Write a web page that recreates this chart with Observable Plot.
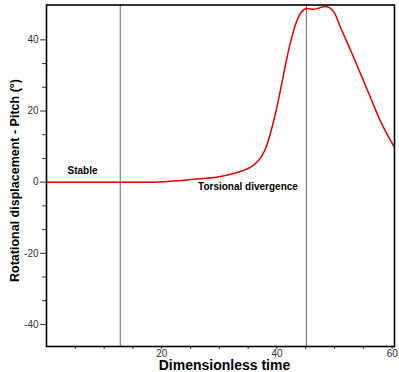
<!DOCTYPE html>
<html>
<head>
<meta charset="utf-8">
<script src="https://cdn.jsdelivr.net/npm/d3@7"></script>
<script src="https://cdn.jsdelivr.net/npm/@observablehq/plot@0.6"></script>
<style>
  html, body { margin: 0; padding: 0; background: #fff; }
  svg { display: block; }
</style>
</head>
<body>
<div id="chart"></div>
<script>
// Data
const time  = [0, 10, 18, 22, 26.7, 30, 32, 34, 35.5, 36.5, 37.3, 38.0, 38.6, 39.2, 39.8, 40.5, 41.3, 42.2, 43.2, 44.2, 45.2, 46.4, 48.4, 49.9, 51, 52.8, 54.5, 56.3, 58, 60.4];
const pitch = [0, 0, 0, 0.3, 0.95, 1.5, 2.2, 3.2, 4.3, 5.6, 7.2, 9.4, 12.2, 15.8, 19.7, 25, 31.5, 38.3, 44.2, 47.7, 48.8, 48.6, 49.4, 47.8, 43.6, 37, 30.5, 23.5, 17, 9.8];
const regimeBounds = [12.8, 45.1];
const stableNote = [{label: "Stable", t: 6.25, v: 2.3}];
const divergenceNote = [{label: "Torsional divergence", t: 26.3, v: -2.3}];
const xMajorTicks = [20, 40, 60];
const xMinorTicks = [5, 10, 15, 25, 30, 35, 45, 50, 55];
const yMajorTicks = [-40, -20, 0, 20, 40];
const yMinorTicks = [-33.33, -26.67, -13.33, -6.67, 6.67, 13.33, 26.67, 33.33];
const xTitle = "Dimensionless time";
const yTitle = "Rotational displacement - Pitch (°)";

const series = time.map((t, i) => ({t, v: pitch[i]}));

const chart = Plot.plot({
  width: 399,
  height: 372,
  marginLeft: 46,
  marginRight: 5,
  marginTop: 4.5,
  marginBottom: 26,
  style: {fontFamily: "Liberation Sans, Arial, sans-serif", fontSize: "10px", background: "#fff", color: "#333"},
  x: {domain: [0, 60.4]},
  y: {domain: [-46.2, 49.8]},
  marks: [
    Plot.ruleX(regimeBounds, {stroke: "#666", strokeWidth: 1}),
    Plot.line(series, {x: "t", y: "v", stroke: "#e00000", strokeWidth: 1.5, curve: "monotone-x"}),
    Plot.axisX(xMajorTicks, {tickSize: 3, tickPadding: 0, label: null, fill: "#333", fontSize: 10, tickFormat: (d) => String(d)}),
    Plot.axisX(xMinorTicks, {tickSize: 3, text: null, label: null}),
    Plot.axisY(yMajorTicks, {tickSize: 6, tickPadding: 2, label: null, fill: "#333", fontSize: 10, tickFormat: (d) => String(d)}),
    Plot.axisY(yMinorTicks, {tickSize: 4, text: null, label: null}),
    Plot.frame({stroke: "#000", strokeWidth: 1.6}),
    Plot.text(stableNote, {x: "t", y: "v", text: "label", textAnchor: "middle", lineAnchor: "bottom", fontWeight: "bold", fontSize: 10, fill: "#000"}),
    Plot.text(divergenceNote, {x: "t", y: "v", text: "label", textAnchor: "start", lineAnchor: "bottom", fontWeight: "bold", fontSize: 10, fill: "#000"}),
    Plot.text([xTitle], {frameAnchor: "bottom", textAnchor: "middle", lineAnchor: "bottom", dy: 23, dx: 4, fontWeight: "bold", fontSize: 14, fill: "#000"}),
    Plot.text([yTitle], {frameAnchor: "left", textAnchor: "middle", rotate: -90, lineAnchor: "middle", dx: -31.5, dy: 4.75, fontWeight: "bold", fontSize: 12.5, fill: "#000"})
  ]
});
document.getElementById("chart").appendChild(chart);
</script>
</body>
</html>
